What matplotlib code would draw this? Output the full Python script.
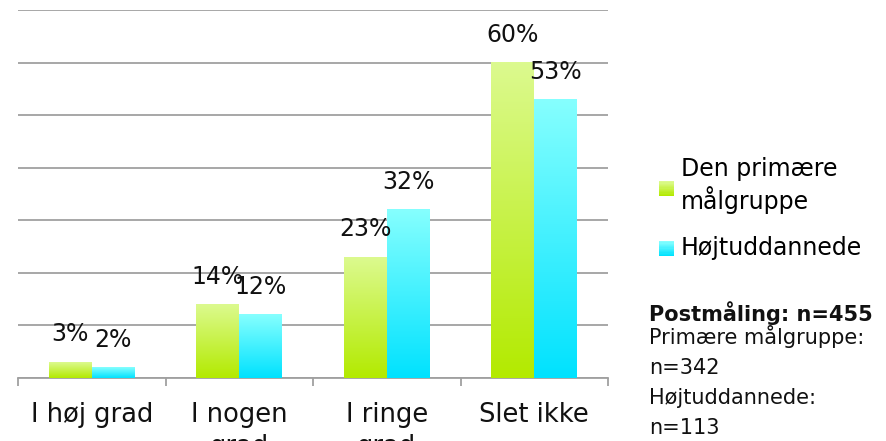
import numpy as np
import matplotlib
matplotlib.use("Agg")
import matplotlib.pyplot as plt
from matplotlib.colors import LinearSegmentedColormap
from matplotlib.patches import Patch, Rectangle
from matplotlib.legend_handler import HandlerBase

categories = ["I høj grad", "I nogen\ngrad", "I ringe\ngrad", "Slet ikke"]
primaer = [3, 14, 23, 60]
hoejudd = [2, 12, 32, 53]
series_names = ["Den primære\nmålgruppe", "Højtuddannede"]
note_title = "Postmåling: n=455"
note_lines = "Primære målgruppe:\nn=342\nHøjtuddannede:\nn=113"

green_cm = LinearSegmentedColormap.from_list("g", ["#b3ea00", "#dcfa8f"])
cyan_cm = LinearSegmentedColormap.from_list("c", ["#00e2fe", "#86ffff"])


class GradHandler(HandlerBase):
    # legend square drawn as thin stacked strips so it shows the gradient
    def __init__(self, cmap):
        super().__init__()
        self.cmap = cmap

    def create_artists(self, legend, orig, x0, y0, width, height, fontsize, trans):
        n = 12
        arts = []
        for i in range(n):
            r = Rectangle((x0, y0 + height * i / n), width, height / n + 0.3,
                          facecolor=self.cmap(i / (n - 1)), edgecolor="none",
                          transform=trans)
            arts.append(r)
        return arts


plt.rcParams['font.family'] = 'DejaVu Sans'

fig = plt.figure(figsize=(8.86, 4.41), dpi=100)
ax = fig.add_axes([18/886, 63/441, 590/886, 368/441])

x = np.arange(len(categories))
w = 0.29
grad = np.linspace(0, 1, 256).reshape(-1, 1)

for vals, off, cm in [(primaer, -w/2, green_cm), (hoejudd, w/2, cyan_cm)]:
    bars = ax.bar(x + off, vals, width=w, color="none", zorder=3)
    for b, v in zip(bars, vals):
        x0 = b.get_x()
        ax.imshow(grad, cmap=cm, origin="lower", aspect="auto",
                  extent=[x0, x0 + w, 0, v], zorder=3)
        ax.annotate(f"{v}%", (x0 + w/2, v), xytext=(0, 20),
                    textcoords="offset points", ha="center", va="center",
                    fontsize=17, color="#111111", zorder=5)

ax.set_xlim(-0.5, len(categories) - 0.5)
ax.set_ylim(0, 70)
ax.set_yticks(np.arange(0, 71, 10))
ax.yaxis.grid(True, color="#a0a0a0", linewidth=1.3, zorder=0)
ax.set_axisbelow(True)
ax.tick_params(axis="y", left=False, labelleft=False)
for s in ["left", "right", "top"]:
    ax.spines[s].set_visible(False)
ax.spines["bottom"].set_color("#a0a0a0")
ax.spines["bottom"].set_linewidth(1.3)

ax.set_xticks(x)
ax.set_xticklabels(categories, fontsize=18.5, color="#111111", linespacing=1.3)
ax.tick_params(axis="x", which="major", length=0, pad=17)
ax.set_xticks(np.arange(-0.5, len(categories), 1), minor=True)
ax.tick_params(axis="x", which="minor", length=6, width=1.3, color="#a0a0a0")

handles = [Patch(facecolor="#c6f240"), Patch(facecolor="#3ff0ff")]
fig.legend(handles, series_names, loc="upper left",
           bbox_to_anchor=(650/886, 1 - 148/441), frameon=False,
           fontsize=17, handlelength=0.6, handleheight=0.6,
           handletextpad=0.3, labelspacing=0.95, borderaxespad=0,
           handler_map={handles[0]: GradHandler(green_cm),
                        handles[1]: GradHandler(cyan_cm)})

fig.text(649/886, 1 - 313/441, note_title, fontsize=15, fontweight="bold",
         va="center", ha="left", color="#111111")
fig.text(649/886, 1 - 325/441, note_lines, fontsize=15, va="top", ha="left",
         color="#111111", linespacing=1.62)

fig.savefig("out.png", dpi=100)
